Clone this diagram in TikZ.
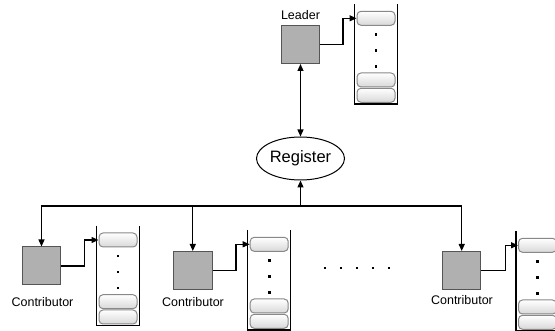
\documentclass[tikz,border=0pt]{standalone}
\usepackage{fontspec}
\setmainfont{Liberation Sans}
\usetikzlibrary{arrows.meta,shapes.geometric,calc}
\definecolor{sqfill}{HTML}{B0B0B0}
\definecolor{sqline}{HTML}{555555}
\definecolor{slotline}{HTML}{888888}
\definecolor{slotbot}{HTML}{D8D8D8}
\tikzset{
  sq/.style={draw=sqline, line width=1pt, fill=sqfill, minimum width=38.5pt, minimum height=38pt, inner sep=0pt},
  slot/.style={draw=slotline, line width=1pt, rounded corners=4pt, top color=white, bottom color=slotbot, minimum width=38pt, minimum height=14pt, inner sep=0pt},
  wall/.style={line width=1.2pt, black},
  qdot/.style={fill=black, minimum size=2.6pt, inner sep=0pt},
  conn/.style={line width=1.2pt, black, -{Triangle[length=7pt,width=6pt]}},
  lbl/.style={font=\fontsize{12.5pt}{14pt}\selectfont, inner sep=0pt},
  pics/queue/.style={code={
    \draw[wall] (-21.5,-100) -- (-21.5,0) -- (21.5,0) -- (21.5,-100);
    \node[slot] (-s1) at (0,-85.7) {};
    \node[qdot] (-d1) at (0,-69.7) {};
    \node[qdot] (-d2) at (0,-53.7) {};
    \node[qdot] (-d3) at (0,-37.7) {};
    \node[slot] (-s2) at (0,-24) {};
    \node[slot] (-s3) at (0,-8.7) {};
  }}
}
\begin{document}
\begin{tikzpicture}[x=1pt,y=-1pt]
\useasboundingbox (0,0) rectangle (555,331);
% leader
\node[sq] (L) at (300.5,44.5) {};
\node[lbl] (Llbl) at (300.5,15) {Leader};
\pic (q0) at (376,104) {queue};
% register
\node[draw, ellipse, line width=1pt, minimum width=88pt, minimum height=43pt, inner sep=0pt, font=\fontsize{16.5pt}{18pt}\selectfont] (reg) at (300.5,158.5) {Register};
% contributors
\node[sq] (C1) at (41.5,266) {};
\node[sq] (C2) at (192.8,270.5) {};
\node[sq] (C3) at (461.7,270.5) {};
\node[lbl] (C1l) at (42.5,302) {Contributor};
\node[lbl] (C2l) at (193,302) {Contributor};
\node[lbl] (C3l) at (462,300) {Contributor};
\pic (q1) at (118,325.7) {queue};
\pic (q2) at (269.2,330) {queue};
\pic (q3) at (537.5,331) {queue};
% ellipsis dots
\foreach \x [count=\i] in {325,341,357,373,389.3}
  \node[qdot, minimum size=2.2pt] (e\i) at (\x,268.3) {};
% connectors to queues
\coordinate (m0) at (343,0);
\coordinate (m1) at (84.3,0);
\coordinate (m2) at (236,0);
\coordinate (m3) at (505.7,0);
\draw[conn] (L.east) -- (L.east -| m0) |- (q0-s1.west);
\draw[conn] (C1.east) -- (C1.east -| m1) |- (q1-s1.west);
\draw[conn] (C2.east) -- (C2.east -| m2) |- (q2-s1.west);
\draw[conn] (C3.east) -- (C3.east -| m3) |- (q3-s1.west);
% leader <-> register
\draw[line width=1.2pt, {Triangle[length=7pt,width=6pt]}-{Triangle[length=7pt,width=6pt]}] (L.south) -- (reg.north);
% bus
\coordinate (bus) at (0,206);
\draw[conn] (reg.south |- bus) -| (C1.north);
\draw[conn] (reg.south |- bus) -| (C3.north);
\draw[conn] (C2.north |- bus) -- (C2.north);
\draw[conn] (reg.south |- bus) -- (reg.south);
\end{tikzpicture}
\end{document}
